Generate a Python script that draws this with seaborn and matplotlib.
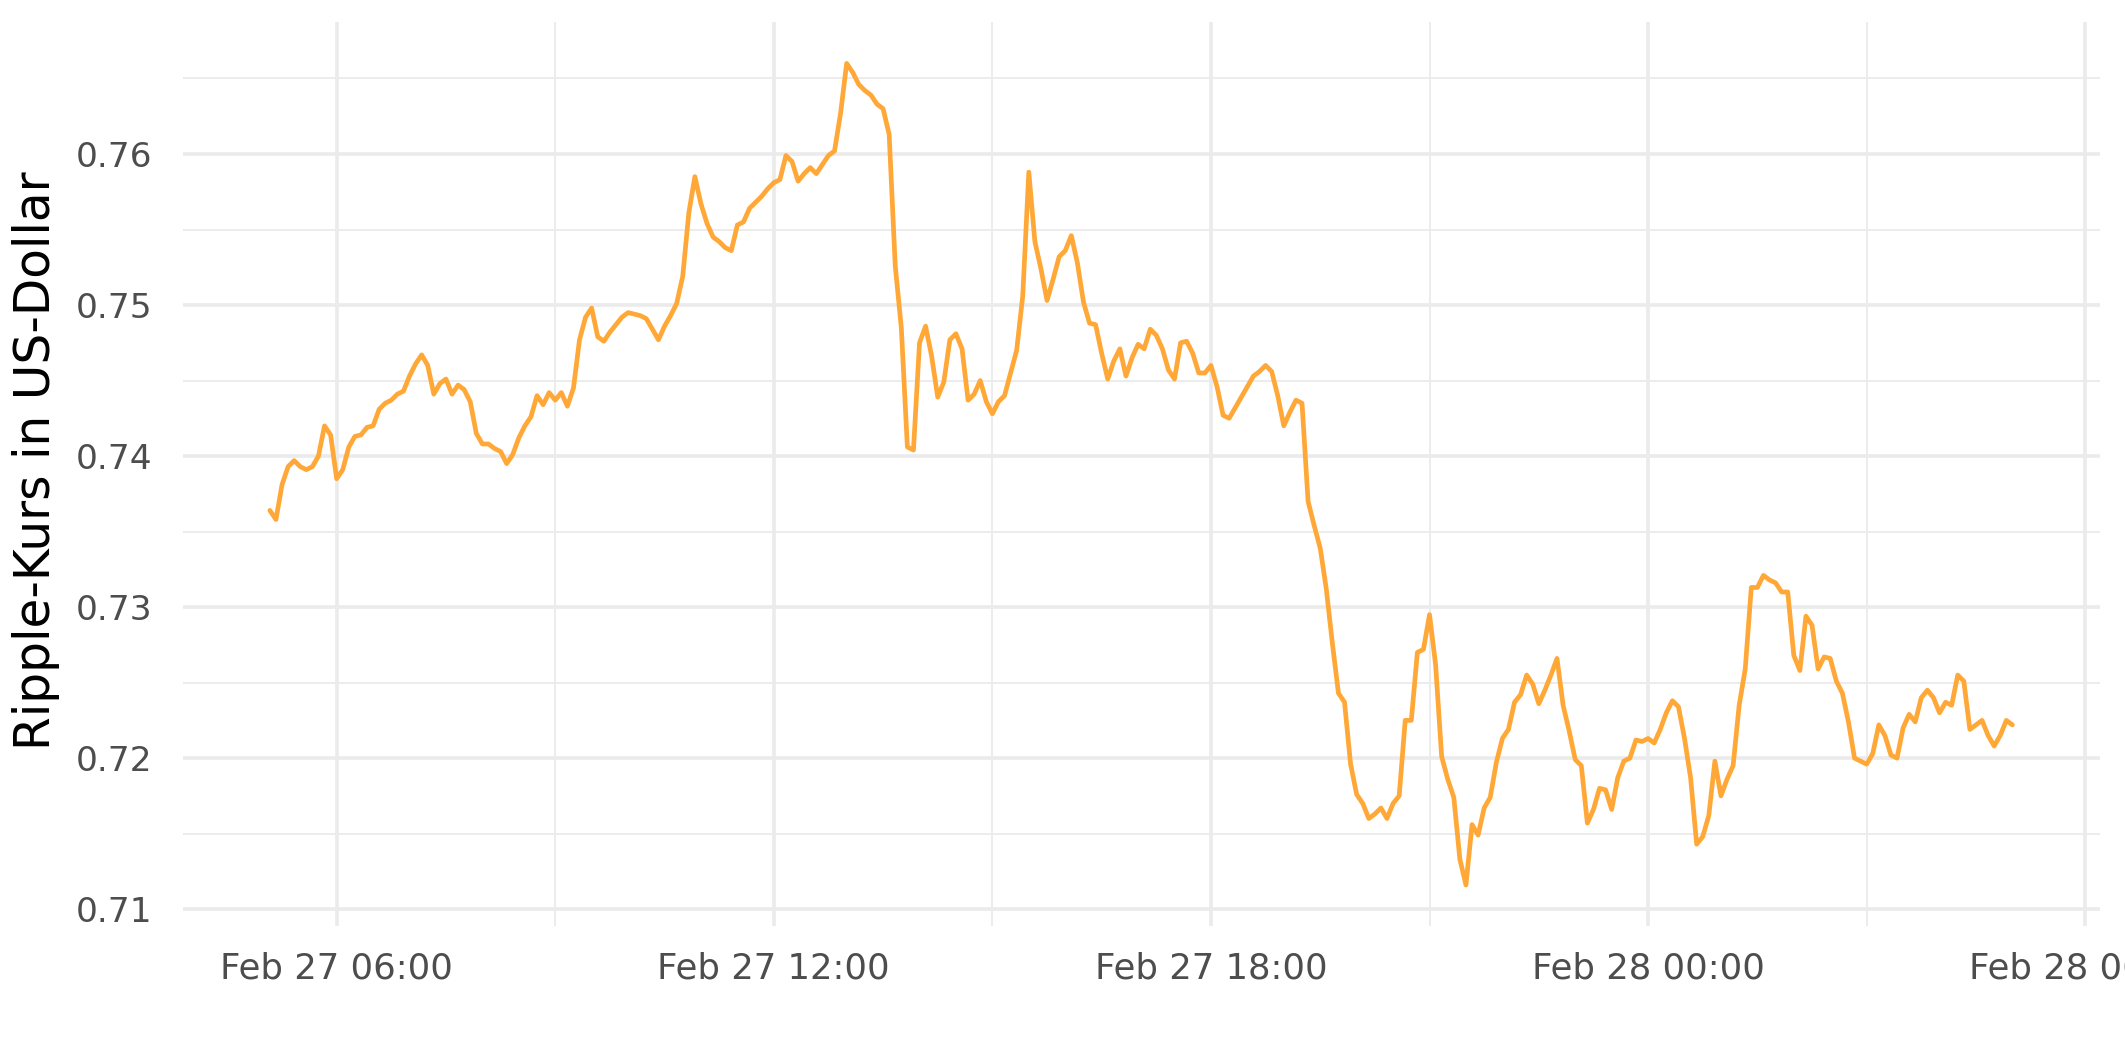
import pandas as pd
import numpy as np
import matplotlib.pyplot as plt
import matplotlib.dates as mdates
import seaborn as sns

# 5-minute Ripple prices, Feb 27 05:05 -> Feb 28 05:00
start_time = "2024-02-27 05:05"
step = "5min"

# 05:05 - 11:00
price_block_1 = [
    0.7364, 0.7358, 0.7381, 0.7393, 0.7397, 0.7393, 0.7391, 0.7393, 0.7400, 0.7420, 0.7414, 0.7385,
    0.7391, 0.7406, 0.7413, 0.7414, 0.7419, 0.7420, 0.7431, 0.7435, 0.7437, 0.7441, 0.7443, 0.7453,
    0.7461, 0.7467, 0.7460, 0.7441, 0.7448, 0.7451, 0.7441, 0.7447, 0.7444, 0.7436, 0.7415, 0.7408,
    0.7408, 0.7405, 0.7403, 0.7395, 0.7401, 0.7412, 0.7420, 0.7426, 0.7440, 0.7434, 0.7442, 0.7437,
    0.7442, 0.7433, 0.7445, 0.7477, 0.7492, 0.7498, 0.7479, 0.7476, 0.7482, 0.7487, 0.7492, 0.7495,
    0.7494, 0.7493, 0.7491, 0.7484, 0.7477, 0.7486, 0.7493, 0.7501, 0.7519, 0.7561, 0.7585, 0.7567,
]
# 11:05 - 17:00
price_block_2 = [
    0.7554, 0.7545, 0.7542, 0.7538, 0.7536, 0.7553, 0.7555, 0.7564, 0.7568, 0.7572, 0.7577, 0.7581,
    0.7583, 0.7599, 0.7595, 0.7582, 0.7587, 0.7591, 0.7587, 0.7593, 0.7599, 0.7602, 0.7627, 0.7660,
    0.7654, 0.7646, 0.7642, 0.7639, 0.7633, 0.7630, 0.7613, 0.7526, 0.7485, 0.7406, 0.7404, 0.7475,
    0.7486, 0.7466, 0.7439, 0.7449, 0.7477, 0.7481, 0.7471, 0.7437, 0.7441, 0.7450, 0.7436, 0.7428,
    0.7436, 0.7440, 0.7455, 0.7470, 0.7506, 0.7588, 0.7542, 0.7524, 0.7503, 0.7517, 0.7532, 0.7536,
    0.7546, 0.7528, 0.7502, 0.7488, 0.7487, 0.7468, 0.7451, 0.7463, 0.7471, 0.7453, 0.7465, 0.7474,
]
# 17:05 - 23:00
price_block_3 = [
    0.7471, 0.7484, 0.7480, 0.7471, 0.7457, 0.7451, 0.7475, 0.7476, 0.7468, 0.7455, 0.7455, 0.7460,
    0.7446, 0.7427, 0.7425, 0.7432, 0.7439, 0.7446, 0.7453, 0.7456, 0.7460, 0.7456, 0.7440, 0.7420,
    0.7429, 0.7437, 0.7435, 0.7370, 0.7354, 0.7339, 0.7312, 0.7276, 0.7243, 0.7237, 0.7196, 0.7176,
    0.7170, 0.7160, 0.7163, 0.7167, 0.7160, 0.7170, 0.7175, 0.7225, 0.7225, 0.7270, 0.7272, 0.7295,
    0.7262, 0.7201, 0.7186, 0.7174, 0.7133, 0.7116, 0.7156, 0.7149, 0.7167, 0.7174, 0.7197, 0.7213,
    0.7219, 0.7237, 0.7242, 0.7255, 0.7249, 0.7236, 0.7245, 0.7255, 0.7266, 0.7235, 0.7218, 0.7199,
]
# 23:05 - 05:00
price_block_4 = [
    0.7195, 0.7157, 0.7166, 0.7180, 0.7179, 0.7166, 0.7187, 0.7198, 0.7200, 0.7212, 0.7211, 0.7213,
    0.7210, 0.7219, 0.7230, 0.7238, 0.7234, 0.7213, 0.7187, 0.7143, 0.7148, 0.7162, 0.7198, 0.7175,
    0.7186, 0.7195, 0.7235, 0.7259, 0.7313, 0.7313, 0.7321, 0.7318, 0.7316, 0.7310, 0.7310, 0.7268,
    0.7258, 0.7294, 0.7288, 0.7259, 0.7267, 0.7266, 0.7251, 0.7243, 0.7224, 0.7200, 0.7198, 0.7196,
    0.7203, 0.7222, 0.7215, 0.7202, 0.7200, 0.7220, 0.7229, 0.7224, 0.7240, 0.7245, 0.7240, 0.7230,
    0.7237, 0.7235, 0.7255, 0.7251, 0.7219, 0.7222, 0.7225, 0.7215, 0.7208, 0.7215, 0.7225, 0.7222,
]

prices = price_block_1 + price_block_2 + price_block_3 + price_block_4
df = pd.DataFrame({
    "time": pd.date_range(start_time, periods=len(prices), freq=step),
    "price": prices,
})

sns.set_theme(style="white")
plt.rcParams["font.family"] = ["DejaVu Sans"]

fig, ax = plt.subplots(figsize=(10.625, 5.31), dpi=200)
fig.subplots_adjust(left=0.086, right=0.988, top=0.979, bottom=0.128)

sns.lineplot(data=df, x="time", y="price", ax=ax, color="#FFA838", linewidth=1.7)

# ggplot-like expansion of 5 % on both axes
t0, t1 = df["time"].min(), df["time"].max()
pad_t = (t1 - t0) * 0.05
ax.set_xlim(t0 - pad_t, t1 + pad_t)
lo, hi = df["price"].min(), df["price"].max()
pad_y = (hi - lo) * 0.05
ax.set_ylim(lo - pad_y, hi + pad_y)

ax.xaxis.set_major_locator(mdates.HourLocator(byhour=[0, 6, 12, 18]))
ax.xaxis.set_minor_locator(mdates.HourLocator(byhour=[3, 9, 15, 21]))
ax.xaxis.set_major_formatter(mdates.DateFormatter("%b %d %H:%M"))
ax.yaxis.set_major_locator(plt.MultipleLocator(0.01))
ax.yaxis.set_minor_locator(plt.MultipleLocator(0.005))
ax.yaxis.set_major_formatter(plt.FormatStrFormatter("%.2f"))

ax.grid(which="major", color="#EBEBEB", linewidth=1.3)
ax.grid(which="minor", color="#EBEBEB", linewidth=0.65)
ax.set_axisbelow(True)
for s in ax.spines.values():
    s.set_visible(False)

ax.tick_params(axis="both", which="both", length=0, labelsize=12.4, labelcolor="#4D4D4D")
ax.tick_params(axis="x", pad=9, labelsize=12.8)
ax.tick_params(axis="y", pad=11)

ax.set_xlabel("")
ax.set_ylabel("Ripple-Kurs in US-Dollar", fontsize=17.5, color="black")
ax.yaxis.set_label_coords(-0.064, 0.515)

fig.savefig("out.png", dpi=200)
